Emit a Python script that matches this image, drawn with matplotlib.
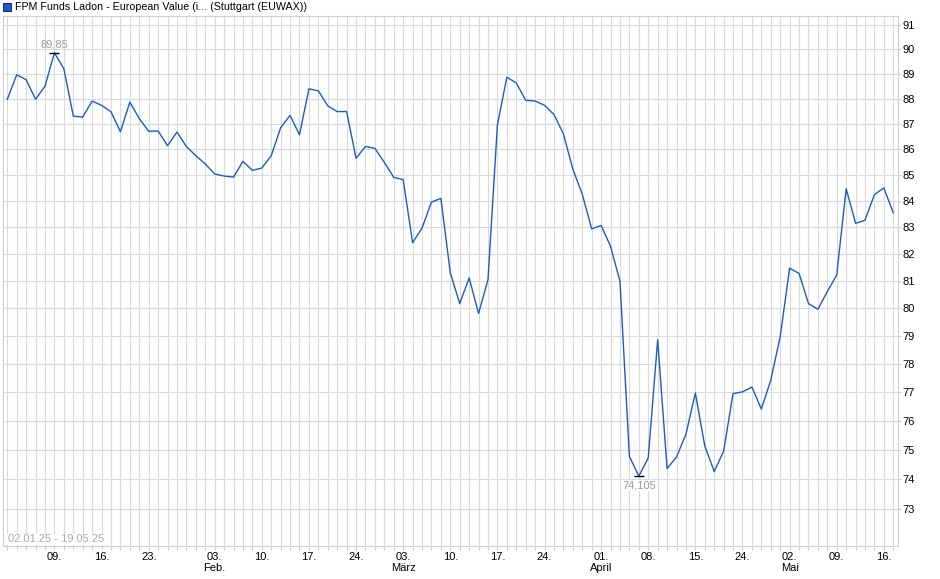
import pandas as pd
import matplotlib
matplotlib.use("Agg")
import matplotlib.pyplot as plt
from matplotlib.patches import Rectangle
from matplotlib.ticker import NullLocator, NullFormatter

plt.rcParams['font.family'] = ['Liberation Sans', 'DejaVu Sans']

# --- Daten ---
START = "2025-01-02"
END = "2025-05-19"
HOLIDAYS = ["2025-04-18", "2025-04-21", "2025-05-01"]

prices = [
    87.97, 88.96, 88.76, 87.97, 88.50, 89.85, 89.20, 87.30, 87.26, 87.90,
    87.73, 87.47, 86.68, 87.86, 87.20, 86.70, 86.71, 86.13, 86.67, 86.10,
    85.74, 85.42, 85.03, 84.95, 84.91, 85.52, 85.17, 85.26, 85.74, 86.84,
    87.33, 86.56, 88.39, 88.31, 87.71, 87.48, 87.48, 85.64, 86.10, 86.03,
    85.48, 84.90, 84.81, 82.41, 82.96, 83.95, 84.09, 81.29, 80.16, 81.10,
    79.80, 81.04, 86.96, 88.86, 88.63, 87.93, 87.90, 87.73, 87.36, 86.60,
    85.22, 84.25, 82.93, 83.06, 82.28, 80.98, 74.77, 74.105, 74.72, 78.85,
    74.36, 74.75, 75.53, 76.96, 75.13, 74.26, 74.95, 76.94, 77.00, 77.17,
    76.40, 77.41, 78.96, 81.46, 81.27, 80.16, 79.95, 80.60, 81.21, 84.46,
    83.14, 83.26, 84.24, 84.49, 83.54,
]

tick_dates = [
    "2025-01-09", "2025-01-16", "2025-01-23", "2025-02-03", "2025-02-10",
    "2025-02-17", "2025-02-24", "2025-03-03", "2025-03-10", "2025-03-17",
    "2025-03-24", "2025-04-01", "2025-04-08", "2025-04-15", "2025-04-24",
    "2025-05-02", "2025-05-09", "2025-05-16",
]
month_labels = {
    "2025-02-03": "Feb.",
    "2025-03-03": "März",
    "2025-04-01": "April",
    "2025-05-02": "Mai",
}
y_ticks = list(range(73, 92))

title = "FPM Funds Ladon - European Value (i... (Stuttgart (EUWAX))"
period = "02.01.25 - 19.05.25"

LINE_COLOR = "#1c5cc4"
GRID_COLOR = "#dadada"
FS = 8


def main():
    days = pd.bdate_range(START, END, freq="C", holidays=HOLIDAYS)
    s = pd.Series(prices, index=days)
    x = list(range(len(s)))

    fig = plt.figure(figsize=(9.40, 5.79), dpi=100)
    ax = fig.add_axes([2.6 / 940, 1 - 545.5 / 579, (898 - 2.6) / 940, (545.5 - 16) / 579])

    ax.plot(x, s.values, color=LINE_COLOR, lw=1.0, zorder=3)

    ax.set_yscale("log")
    ax.set_ylim(71.80, 91.37)
    ax.set_xlim(-0.5, len(s) - 0.5)

    ax.yaxis.set_minor_locator(NullLocator())
    ax.yaxis.set_minor_formatter(NullFormatter())
    ax.set_yticks(y_ticks)
    ax.set_yticklabels([str(v) for v in y_ticks])
    ax.yaxis.tick_right()

    # x-Achse: Gitter an jedem Handelstag, Beschriftung nur an ausgewählten Tagen
    labels = [""] * len(s)
    for d in tick_dates:
        i = days.get_loc(pd.Timestamp(d))
        txt = f"{pd.Timestamp(d).day:02d}."
        if d in month_labels:
            txt += "\n" + month_labels[d]
        labels[i] = txt
    ax.set_xticks(x)
    ax.set_xticklabels(labels)

    ax.grid(True, color=GRID_COLOR, lw=0.8, zorder=0)
    ax.set_axisbelow(True)
    for sp in ax.spines.values():
        sp.set_color("#cfcfcf")
        sp.set_linewidth(0.8)
    ax.tick_params(axis="x", length=3, color="#cfcfcf", labelsize=FS, pad=1.5)
    ax.tick_params(axis="y", length=2, color="#cfcfcf", labelsize=FS, pad=1.5,
                   right=True, left=False, labelright=True, labelleft=False)

    # Hoch / Tief markieren
    i_max = s.values.argmax()
    i_min = s.values.argmin()
    ax.plot([i_max, i_min], [s.values[i_max], s.values[i_min]], ls="none",
            marker="_", ms=7, mew=1.0, color="black", zorder=4)
    ax.annotate("89,85", (i_max, s.values[i_max]), xytext=(0, 8),
                textcoords="offset pixels", ha="center", va="center",
                fontsize=FS, color="#9a9a9a")
    ax.annotate("74,105", (i_min, s.values[i_min]), xytext=(0, -9.5),
                textcoords="offset pixels", ha="center", va="center",
                fontsize=FS, color="#9a9a9a",
                bbox=dict(facecolor="white", edgecolor="none", pad=0.5))

    ax.text(0.006, 6.2 / 529.5, period, transform=ax.transAxes,
            fontsize=FS, color="#a8a8a8", ha="left", va="center",
            bbox=dict(facecolor="white", edgecolor="none", pad=0.5))

    # Legende oben links
    fig.patches.append(Rectangle((3.3 / 940, 1 - 10.5 / 579), 8 / 940, 8 / 579,
                                 transform=fig.transFigure, facecolor=LINE_COLOR,
                                 edgecolor="#14357a", lw=0.8))
    fig.text(15 / 940, 1 - 6.8 / 579, title, fontsize=7.7, color="black",
             ha="left", va="center")

    fig.savefig("out.png", dpi=100)
    plt.close(fig)


if __name__ == "__main__":
    main()
